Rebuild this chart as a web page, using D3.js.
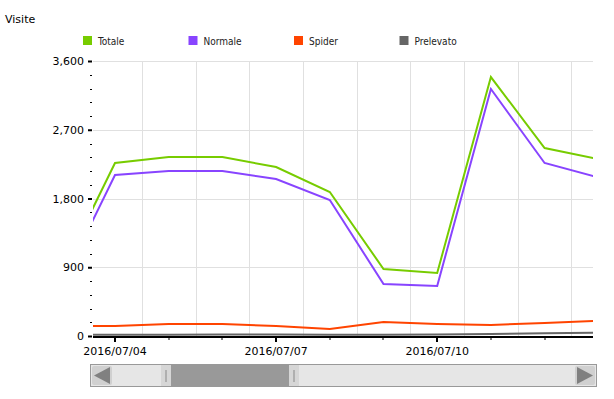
<!DOCTYPE html>
<html>
<head>
<meta charset="utf-8">
<script src="https://cdn.jsdelivr.net/npm/d3@7"></script>
<style>
  body { margin: 0; background: #fff; }
  svg text { font-family: "DejaVu Sans", Verdana, sans-serif; font-size: 11px; fill: #000; }
  .legend text { font-family: "DejaVu Sans Condensed", "DejaVu Sans", sans-serif; font-stretch: condensed; font-size: 10px; fill: #222; }
</style>
</head>
<body>
<svg id="chart" width="614" height="399"></svg>
<script>
// one value per day, 07/03 .. 07/13 (ends are clipped by the zoom window)
var days = ["2016-07-03", "2016-07-04", "2016-07-05", "2016-07-06", "2016-07-07", "2016-07-08",
            "2016-07-09", "2016-07-10", "2016-07-11", "2016-07-12", "2016-07-13"];
var totale    = [830, 2265, 2343, 2343, 2212, 1885, 877, 825, 3390, 2461, 2315];
var normale   = [670, 2108, 2160, 2160, 2055, 1780, 681, 655, 3233, 2265, 2075];
var spider    = [131, 131, 157, 157, 131, 92, 183, 157, 144, 170, 200];
var prelevato = [15, 15, 18, 20, 20, 18, 15, 20, 25, 35, 45];

var seriesNames = ["Totale", "Normale", "Spider", "Prelevato"];
var seriesColors = ["#77cc00", "#8844ff", "#ff4400", "#666666"];
var yTicks = [0, 900, 1800, 2700, 3600];
var xLabelDays = ["2016-07-04", "2016-07-07", "2016-07-10"];

var parseDay = d3.timeParse("%Y-%m-%d");
var svg = d3.select("#chart");

var plotLeft = 93, plotRight = 593, plotTop = 61, plotBottom = 336;

// visible zoom window of the time axis
var x = d3.scaleTime()
    .domain([new Date(2016, 6, 3, 14, 10), new Date(2016, 6, 12, 21, 38)])
    .range([plotLeft, plotRight]);
var y = d3.scaleLinear().domain([0, 3600]).range([plotBottom, plotTop]);

svg.append("defs").append("clipPath").attr("id", "plotclip")
    .append("rect")
    .attr("x", plotLeft).attr("y", 0)
    .attr("width", plotRight - plotLeft).attr("height", plotBottom + 2);

// title
svg.append("text").attr("x", 5).attr("y", 23).text("Visite");

// legend
var legend = svg.append("g").attr("class", "legend");
seriesNames.forEach(function (name, i) {
    var lx = 83 + i * 105.5;
    legend.append("rect")
        .attr("x", lx).attr("y", 36).attr("width", 9).attr("height", 9)
        .attr("fill", seriesColors[i]);
    legend.append("text").attr("x", lx + 15).attr("y", 45).text(name);
});

// horizontal grid
svg.append("g").selectAll("line").data(yTicks).enter().append("line")
    .attr("x1", plotLeft).attr("x2", plotRight)
    .attr("y1", function (d) { return Math.round(y(d)) + 0.5; })
    .attr("y2", function (d) { return Math.round(y(d)) + 0.5; })
    .attr("stroke", "#e0e0e0");

// vertical grid at midday
var middays = days.map(function (d) { return d3.timeHour.offset(parseDay(d), 12); })
    .filter(function (d) { return x(d) > plotLeft && x(d) < plotRight; });
svg.append("g").selectAll("line").data(middays).enter().append("line")
    .attr("x1", function (d) { return Math.round(x(d)) + 0.5; })
    .attr("x2", function (d) { return Math.round(x(d)) + 0.5; })
    .attr("y1", plotTop).attr("y2", plotBottom)
    .attr("stroke", "#e0e0e0");

// y axis: major + minor ticks, no domain line
var yMinor = d3.range(0, 3601, 180).filter(function (v) { return v % 900 !== 0; });
var yAxis = svg.append("g").attr("transform", "translate(" + (plotLeft - 1) + ",0)");
yAxis.call(d3.axisLeft(y).tickValues(yTicks).tickSize(4).tickPadding(4).tickFormat(d3.format(",")));
yAxis.select(".domain").remove();
yAxis.selectAll("line").attr("stroke", "#000").attr("stroke-width", 2);
yAxis.selectAll("text").attr("font-size", 11).attr("fill", "#000")
    .attr("font-family", "DejaVu Sans, Verdana, sans-serif");
yAxis.selectAll(".minor").data(yMinor).enter().append("line")
    .attr("class", "minor")
    .attr("x1", -2).attr("x2", 0)
    .attr("y1", function (d) { return Math.round(y(d)) + 0.5; })
    .attr("y2", function (d) { return Math.round(y(d)) + 0.5; })
    .attr("stroke", "#000");

// lines
var line = d3.line()
    .x(function (d) { return x(d.date); })
    .y(function (d) { return y(d.value); });
var seriesValues = [prelevato, spider, normale, totale];
var drawColors = [seriesColors[3], seriesColors[2], seriesColors[1], seriesColors[0]];
var lines = svg.append("g").attr("clip-path", "url(#plotclip)");
seriesValues.forEach(function (vals, i) {
    var pts = vals.map(function (v, j) { return { date: parseDay(days[j]), value: v }; });
    lines.append("path")
        .datum(pts)
        .attr("d", line)
        .attr("fill", "none")
        .attr("stroke", drawColors[i])
        .attr("stroke-width", 2);
});

// x axis
var dayTicks = days.map(parseDay).filter(function (d) { return x(d) >= plotLeft && x(d) <= plotRight; });
var labelSet = xLabelDays.map(function (d) { return +parseDay(d); });
var xAxis = svg.append("g").attr("transform", "translate(0," + plotBottom + ")");
xAxis.append("line").attr("x1", plotLeft).attr("x2", plotRight).attr("y1", 1).attr("y2", 1)
    .attr("stroke", "#000").attr("stroke-width", 2);
xAxis.selectAll(".tk").data(dayTicks).enter().append("line")
    .attr("class", "tk")
    .attr("x1", function (d) { return Math.round(x(d)); })
    .attr("x2", function (d) { return Math.round(x(d)); })
    .attr("y1", 1)
    .attr("y2", function (d) { return labelSet.indexOf(+d) >= 0 ? 6 : 4; })
    .attr("stroke", "#000")
    .attr("stroke-width", function (d) { return labelSet.indexOf(+d) >= 0 ? 2 : 1; });
xAxis.selectAll("text").data(xLabelDays.map(parseDay)).enter().append("text")
    .attr("x", function (d) { return x(d); })
    .attr("y", 19)
    .attr("text-anchor", "middle")
    .text(d3.timeFormat("%Y/%m/%d"));

// scrollbar
var sb = svg.append("g");
sb.append("rect").attr("x", 90.5).attr("y", 364.5).attr("width", 506).attr("height", 22)
    .attr("fill", "#e6e6e6").attr("stroke", "#999");
sb.append("rect").attr("x", 92).attr("y", 366).attr("width", 20).attr("height", 19).attr("rx", 2)
    .attr("fill", "#d0d0d0");
sb.append("path").attr("d", "M94,375.5 L110,367 L110,384 Z").attr("fill", "#808080");
sb.append("rect").attr("x", 575).attr("y", 366).attr("width", 20).attr("height", 19).attr("rx", 2)
    .attr("fill", "#d0d0d0");
sb.append("path").attr("d", "M593,375.5 L577,367 L577,384 Z").attr("fill", "#808080");
sb.append("rect").attr("x", 161).attr("y", 365).attr("width", 10).attr("height", 21).attr("fill", "#d6d6d6");
sb.append("rect").attr("x", 171).attr("y", 365).attr("width", 118).attr("height", 21).attr("fill", "#999");
sb.append("rect").attr("x", 289).attr("y", 365).attr("width", 10).attr("height", 21).attr("fill", "#d6d6d6");
sb.append("line").attr("x1", 166).attr("x2", 166).attr("y1", 370).attr("y2", 382).attr("stroke", "#888");
sb.append("line").attr("x1", 294).attr("x2", 294).attr("y1", 370).attr("y2", 382).attr("stroke", "#888");
</script>
</body>
</html>
